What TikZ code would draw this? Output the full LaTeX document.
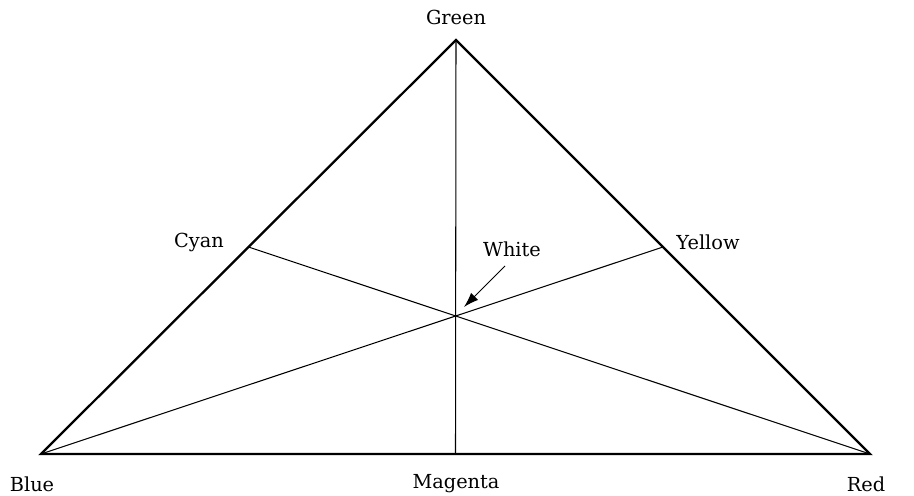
\documentclass[tikz,border=0pt]{standalone}
\usepackage{fontspec}
\setmainfont{DejaVu Serif}
\usetikzlibrary{arrows.meta,calc}

\begin{document}
\begin{tikzpicture}[x=0.02cm,y=-0.02cm,
    side/.style={line width=1.3pt,line join=miter},
    median/.style={line width=0.6pt},
    lbl/.style={font=\fontsize{11}{13}\selectfont,inner sep=0pt},
    arr/.style={-{Latex[length=3mm,width=2mm]},line width=0.6pt}]
    \useasboundingbox (0,0) rectangle (914,496);
    % corners and midpoints
    \coordinate (blue) at (41,454);
    \coordinate (red) at (870,454);
    \coordinate (green) at (456,40);
    \coordinate (magenta) at ($(blue)!0.5!(red)$);
    \coordinate (cyan) at ($(blue)!0.5!(green)$);
    \coordinate (yellow) at ($(red)!0.5!(green)$);
    \coordinate (white) at ($(blue)!2/3!(yellow)$);
    % labels
    \node[lbl] (lgreen) at (456,17) {Green};
    \node[lbl] (lblue) at (32,484) {Blue};
    \node[lbl] (lred) at (866,484) {Red};
    \node[lbl] (lmagenta) at (456,484) {Magenta};
    \node[lbl] (lcyan) at (199,242) {Cyan};
    \node[lbl] (lyellow) at (708,242) {Yellow};
    \node[lbl] (lwhite) at (512,249) {White};
    \coordinate (tail) at (505,266);
    \coordinate (tip) at (464,307);
    % triangle and medians
    \draw[median] (blue)--(yellow); \draw[median] (red)--(cyan); \draw[median] (green)--(magenta);
    \draw[side] (blue)--(red)--(green)--cycle;
    \draw[arr] (tail)--(tip);
\end{tikzpicture}
\end{document}
